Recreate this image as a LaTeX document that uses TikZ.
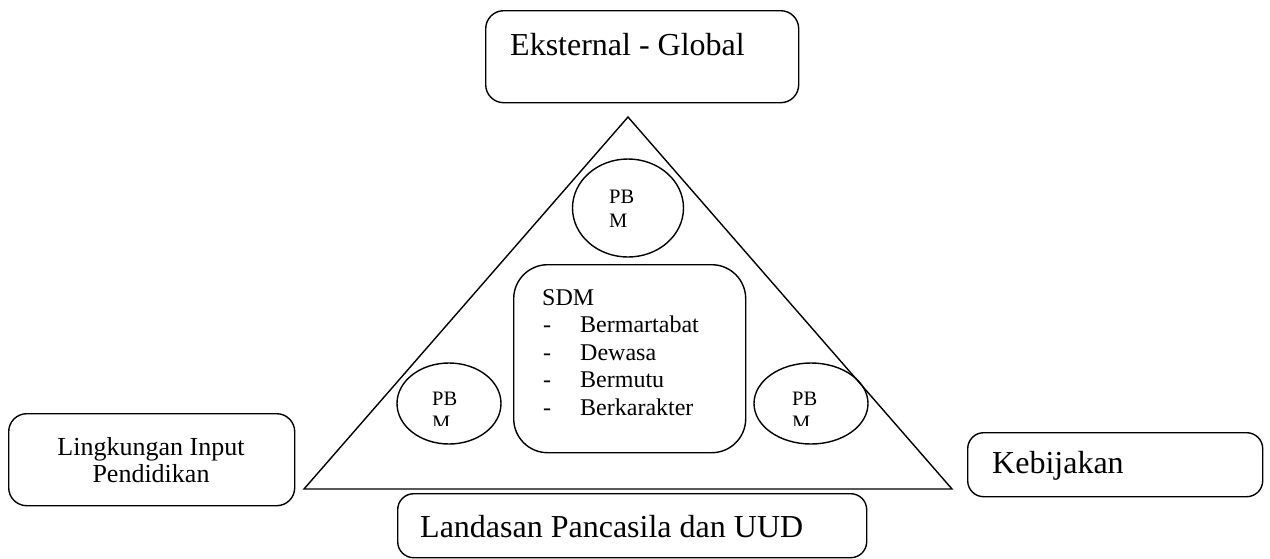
\documentclass[tikz,border=0pt]{standalone}
\usepackage{fontspec}
\setmainfont{Liberation Serif}
\usetikzlibrary{shapes.geometric, positioning}
\tikzset{
  box/.style={
    rectangle, rounded corners=#1, draw=black, line width=1.4pt,
    anchor=north west, inner sep=0pt
  },
  box/.default=18pt,
  pbm/.style={ellipse, draw=black, line width=1.4pt, inner sep=0pt},
  bigtxt/.style={anchor=base west, inner sep=0pt, font=\fontsize{32}{38}\selectfont},
  midtxt/.style={anchor=base west, inner sep=0pt, font=\fontsize{24}{27.5}\selectfont},
  smalltxt/.style={anchor=base west, inner sep=0pt, align=left, font=\fontsize{20.5}{24}\selectfont},
}

\begin{document}
\begin{tikzpicture}[x=1pt, y=-1pt]
\useasboundingbox (0,0) rectangle (1270,558);

% Triangle
\coordinate (apex) at (628,117);
\coordinate (left) at (304,489);
\coordinate (right) at (952,489);
\draw[line width=1.4pt, line join=miter] (apex) -- (left) -- (right) -- cycle;

% Top box
\node[box, minimum width=313pt, minimum height=92pt] (ext) at (485,10) {};
\node[bigtxt] (exttxt) at (510,55) {Eksternal - Global};

% Left box (base = last line)
\node[box, minimum width=286pt, minimum height=92pt] (ling) at (8,413) {};
\node[anchor=base, inner sep=0pt, align=center,
  font=\fontsize{26}{27}\selectfont] (lingtxt) at (151,482) {Lingkungan Input\\Pendidikan};

% Right box
\node[box=16pt, minimum width=295pt, minimum height=64pt] (kebij) at (967,432) {};
\node[bigtxt] (kebijtxt) at (992,473) {Kebijakan};

% Bottom box
\node[box=16pt, minimum width=469pt, minimum height=64pt] (landas) at (397,493) {};
\node[bigtxt] (landastxt) at (420,537) {Landasan Pancasila dan UUD};

% SDM box
\node[box=34pt, minimum width=232pt, minimum height=188pt] (sdm) at (513,264) {};
\node[midtxt] (sdmtxt) at (542,305) {SDM};
\foreach \item [count=\i] in {Bermartabat, Dewasa, Bermutu, Berkarakter} {
  \node[midtxt] (dash\i) at (543,305+27.5*\i) {-};
  \node[midtxt] (item\i) at (580,305+27.5*\i) {\item};
}

% PBM circles
\node[pbm, minimum width=111pt, minimum height=98pt] (pbmtop) at (628,208) {};
\node[smalltxt] (pbmtoptxt) at (609,227) {PB\\M};

\node[pbm, minimum width=104pt, minimum height=81pt] (pbmleft) at (449,403.5) {};
\begin{scope}
  \clip (400,370) rectangle (500,425);
  \node[smalltxt] (pbmlefttxt) at (432,429) {PB\\M};
\end{scope}

\node[pbm, minimum width=114pt, minimum height=81pt] (pbmright) at (811,403.5) {};
\begin{scope}
  \clip (760,370) rectangle (860,425);
  \node[smalltxt] (pbmrighttxt) at (792,429) {PB\\M};
\end{scope}

\end{tikzpicture}
\end{document}
